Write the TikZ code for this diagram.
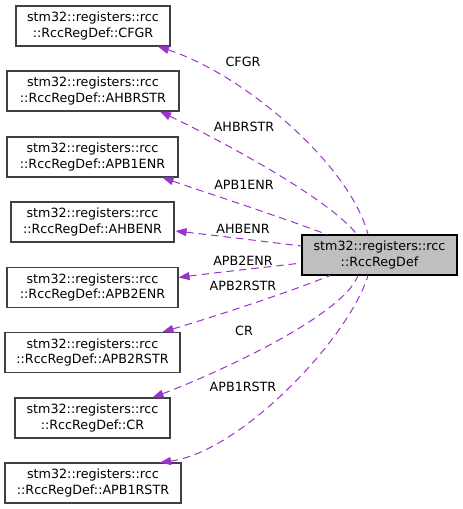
\documentclass[tikz,border=0pt]{standalone}
\usepackage{fontspec}
\setmainfont{DejaVu Sans}
\usetikzlibrary{arrows.meta,calc}
\definecolor{edgecol}{HTML}{9A32CD}
\definecolor{boxborder}{HTML}{404040}
\definecolor{mainfill}{HTML}{BFBFBF}
\begin{document}
\begin{tikzpicture}[x=1pt,y=-1pt,
  every node/.style={font=\fontsize{12.7}{15.5}\selectfont},
  cls/.style={draw=boxborder,line width=1.05pt,fill=white,minimum height=40pt,inner sep=0pt,align=center},
  maincls/.style={draw=black,line width=1.05pt,fill=mainfill,minimum height=40pt,inner sep=0pt,align=center},
  edge/.style={draw=edgecol,line width=1pt,dash pattern=on 7.5pt off 5pt,
    {Triangle[length=11pt,width=8pt,fill=edgecol]}-},
  lbl/.style={inner sep=0pt}]
\useasboundingbox (0,0) rectangle (463,509);

\node[cls,minimum width=154pt] (cfgr) at (93,26) {stm32::registers::rcc\\::RccRegDef::CFGR};
\node[cls,minimum width=172pt] (ahbrstr) at (93,91) {stm32::registers::rcc\\::RccRegDef::AHBRSTR};
\node[cls,minimum width=171pt] (apb1enr) at (92.5,157) {stm32::registers::rcc\\::RccRegDef::APB1ENR};
\node[cls,minimum width=163pt] (ahbenr) at (92.5,222) {stm32::registers::rcc\\::RccRegDef::AHBENR};
\node[cls,minimum width=171pt] (apb2enr) at (92.5,287.5) {stm32::registers::rcc\\::RccRegDef::APB2ENR};
\node[cls,minimum width=175pt] (apb2rstr) at (92.5,352.5) {stm32::registers::rcc\\::RccRegDef::APB2RSTR};
\node[cls,minimum width=155pt] (cr) at (92.5,418) {stm32::registers::rcc\\::RccRegDef::CR};
\node[cls,minimum width=176pt] (apb1rstr) at (93,483) {stm32::registers::rcc\\::RccRegDef::APB1RSTR};

\node[maincls,minimum width=155pt] (main) at (379.5,255) {stm32::registers::rcc\\::RccRegDef};

\draw[edge] ($(cfgr.south)+(65,0)$) .. controls (245,75) and (350,165) .. ($(main.north)+(-11.5,0)$);
\draw[edge] ($(ahbrstr.south)+(67,0)$) .. controls (230,145) and (330,200) .. ($(main.north)+(-22.5,0)$);
\draw[edge] ($(apb1enr.south)+(70,0)$) .. controls (210,194) and (275,215) .. ($(main.north)+(-52.5,0)$);
\draw[edge] ($(ahbenr.east)+(1,9)$) .. controls (220,236) and (260,241) .. ($(main.west)+(0,-9)$);
\draw[edge] ($(apb2enr.east)+(0,-10)$) .. controls (220,272) and (260,268) .. ($(main.west)+(0,8)$);
\draw[edge] ($(apb2rstr.north)+(70,0)$) .. controls (210,318) and (290,292) .. ($(main.south)+(-49.5,0)$);
\draw[edge] ($(cr.north)+(60,0)$) .. controls (205,378) and (342,318) .. ($(main.south)+(-21.5,0)$);
\draw[edge] ($(apb1rstr.north)+(67,0)$) .. controls (240,452) and (348,340) .. ($(main.south)+(-11.5,0)$);

\node[lbl] (lcfgr) at (243,62) {CFGR};
\node[lbl] (lahbrstr) at (244,127) {AHBRSTR};
\node[lbl] (lapb1enr) at (244,185) {APB1ENR};
\node[lbl] (lahbenr) at (243,229) {AHBENR};
\node[lbl] (lapb2enr) at (243,261) {APB2ENR};
\node[lbl] (lapb2rstr) at (243,286) {APB2RSTR};
\node[lbl] (lcr) at (244,331) {CR};
\node[lbl] (lapb1rstr) at (243,387) {APB1RSTR};
\end{tikzpicture}
\end{document}
